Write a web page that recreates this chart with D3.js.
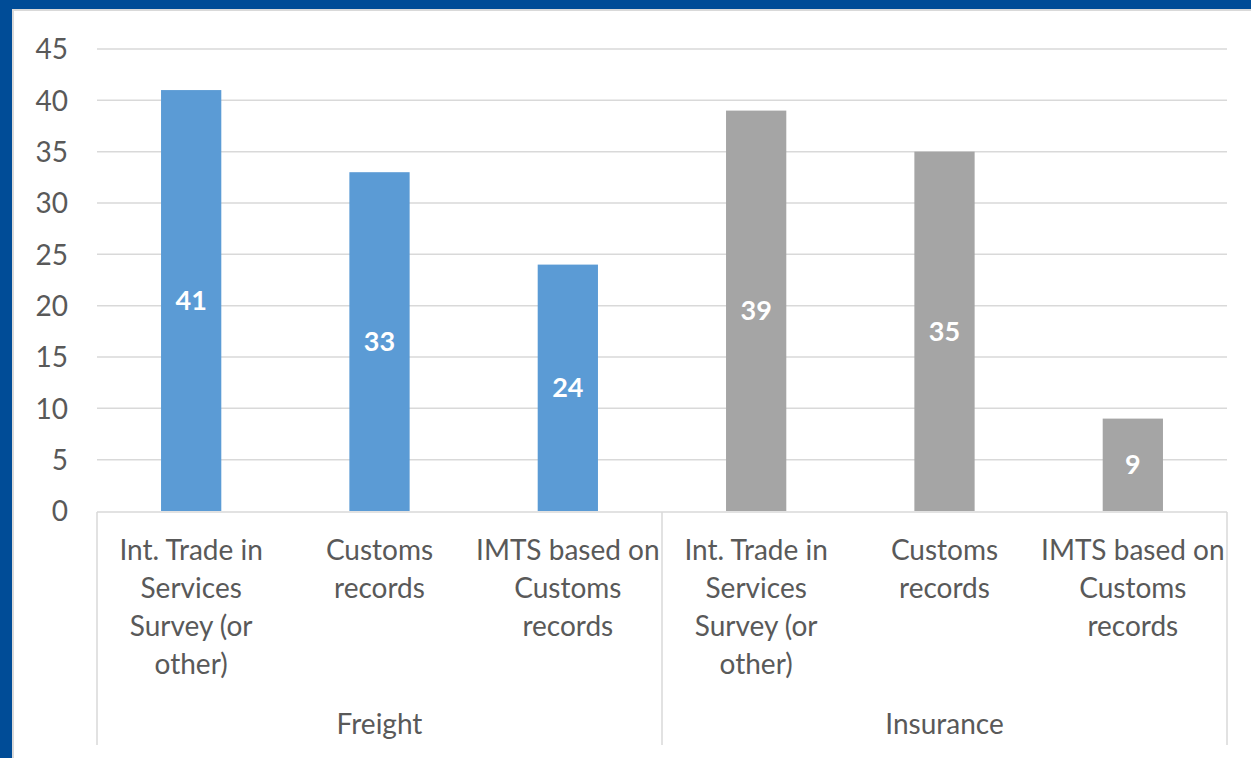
<!DOCTYPE html>
<html><head><meta charset="utf-8">
<script src="https://cdn.jsdelivr.net/npm/d3@7"></script>
<style>html,body{margin:0;padding:0;background:#fff;overflow:hidden}</style>
</head><body>
<svg id="chart" width="1251" height="758"></svg>
<script>
const groups = ["Freight", "Insurance"];
const subLabels = [
  ["Int. Trade in", "Services", "Survey (or", "other)"],
  ["Customs", "records"],
  ["IMTS based on", "Customs", "records"]
];
const freightValues = [41, 33, 24];
const insuranceValues = [39, 35, 9];
const yTicks = [0, 5, 10, 15, 20, 25, 30, 35, 40, 45];
const colors = {Freight: "#5b9bd5", Insurance: "#a5a5a5"};

(function() {
const data = [];
groups.forEach((g, gi) => {
  const vals = gi === 0 ? freightValues : insuranceValues;
  subLabels.forEach((lab, si) => data.push({key: g + si, group: g, lines: lab, value: vals[si]}));
});

const svg = d3.select("#chart");
const W = 1251, H = 758;
const pLeft = 97, pRight = 1227, pTop = 49, pBottom = 511, axisBottom = 745;

// frame
svg.append("rect").attr("x", 0).attr("y", 0).attr("width", W).attr("height", H).attr("fill", "#004c97");
svg.append("rect").attr("x", 12).attr("y", 9).attr("width", W - 12).attr("height", H - 9).attr("fill", "#d9d9d9");
svg.append("rect").attr("x", 14).attr("y", 11).attr("width", W - 14).attr("height", H - 11).attr("fill", "#ffffff");

const x = d3.scaleBand().domain(data.map(d => d.key)).range([pLeft, pRight]).paddingInner(0.68).paddingOuter(0.34);
const y = d3.scaleLinear().domain([0, 45]).range([pBottom, pTop]);
const xg = d3.scaleBand().domain(groups).range([pLeft, pRight]);

const font = "Lato, 'Open Sans', sans-serif";
const textColor = "#595959";
const fs = 28;

// gridlines
svg.append("g").selectAll("line").data(yTicks.filter(t => t > 0)).join("line")
  .attr("x1", pLeft).attr("x2", pRight)
  .attr("y1", d => y(d)).attr("y2", d => y(d))
  .attr("stroke", "#d9d9d9").attr("stroke-width", 1.5);

// y axis labels
const yAxis = d3.axisLeft(y).tickValues(yTicks).tickSize(0).tickPadding(0);
const ya = svg.append("g").attr("transform", `translate(68,0)`).call(yAxis);
ya.select(".domain").remove();
ya.selectAll("text").attr("font-family", font).attr("font-size", fs).attr("fill", textColor).attr("dy", "0.35em");

// bars
svg.append("g").selectAll("rect").data(data).join("rect")
  .attr("x", d => x(d.key)).attr("width", x.bandwidth())
  .attr("y", d => y(d.value)).attr("height", d => y(0) - y(d.value))
  .attr("fill", d => colors[d.group]);

// value labels
svg.append("g").selectAll("text").data(data).join("text")
  .attr("x", d => x(d.key) + x.bandwidth() / 2)
  .attr("y", d => y(d.value / 2))
  .attr("dy", "0.35em").attr("text-anchor", "middle")
  .attr("font-family", font).attr("font-weight", "bold").attr("font-size", 27)
  .attr("fill", "#ffffff").text(d => d.value);

// x axis line
svg.append("line").attr("x1", pLeft).attr("x2", pRight).attr("y1", pBottom + 1).attr("y2", pBottom + 1)
  .attr("stroke", "#d9d9d9").attr("stroke-width", 1.5);
// group separators
const seps = [pLeft, xg(groups[1]), pRight];
svg.append("g").selectAll("line").data(seps).join("line")
  .attr("x1", d => d).attr("x2", d => d).attr("y1", pBottom + 1).attr("y2", axisBottom)
  .attr("stroke", "#d9d9d9").attr("stroke-width", 1.5);

// category labels
const cat = svg.append("g").selectAll("text").data(data).join("text")
  .attr("text-anchor", "middle").attr("font-family", font).attr("font-size", fs).attr("fill", textColor);
cat.each(function(d) {
  const t = d3.select(this);
  d.lines.forEach((ln, i) => {
    t.append("tspan").attr("x", x(d.key) + x.bandwidth() / 2).attr("y", 550 + i * 38).attr("dy", "0.35em").text(ln);
  });
});

// group labels
svg.append("g").selectAll("text").data(groups).join("text")
  .attr("x", d => xg(d) + xg.bandwidth() / 2).attr("y", 724).attr("dy", "0.35em")
  .attr("text-anchor", "middle").attr("font-family", font).attr("font-size", fs).attr("fill", textColor)
  .text(d => d);
})();
</script>
</body></html>
